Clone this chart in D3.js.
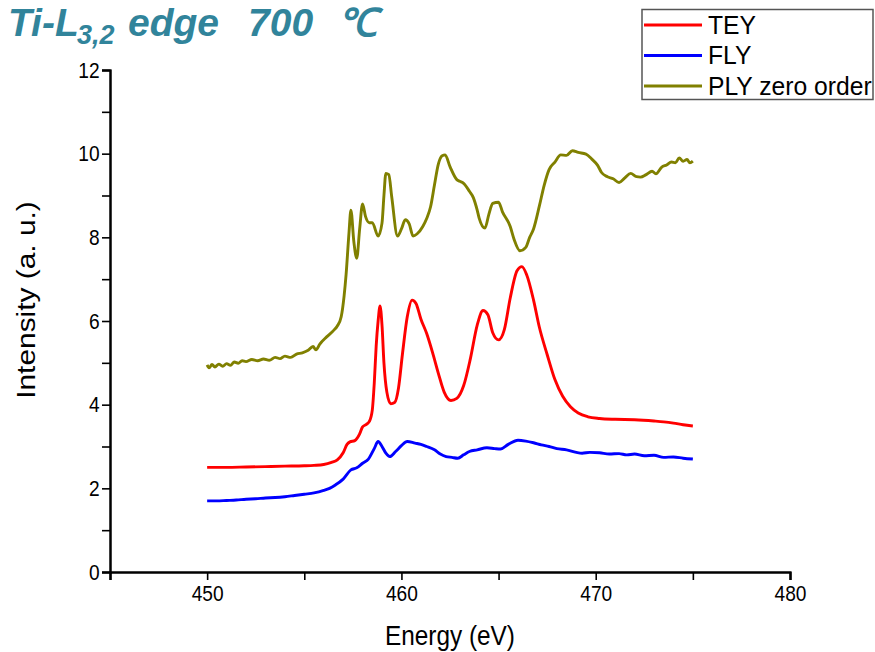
<!DOCTYPE html>
<html><head><meta charset="utf-8">
<script src="https://cdn.jsdelivr.net/npm/d3@7"></script>
<style>body{margin:0;background:#fff}svg{display:block}</style>
</head><body><div id="chart"></div>
<script>
const xTicks = [450, 460, 470, 480];
const xMinorTicks = [445, 455, 465, 475];
const yTicks = [0, 2, 4, 6, 8, 10, 12];
const yMinorTicks = [1, 3, 5, 7, 9, 11];
const seriesNames = ["TEY", "FLY", "PLY zero order"];
const seriesColors = ["#ff0000", "#0000ff", "#808000"];

const teyData = [[450,2.50],[451,2.50],[452,2.51],[453,2.52],[454,2.53],[455,2.54],[455.5,2.55],[456,2.57],[456.4,2.62],[456.7,2.68],[457,2.85],[457.2,3.05],[457.35,3.11],[457.6,3.14],[457.85,3.30],[458.0,3.47],[458.2,3.53],[458.35,3.60],[458.5,3.87],[458.6,4.5],[458.7,5.4],[458.8,6.0],[458.9,6.36],[459.0,5.9],[459.1,5.0],[459.25,4.3],[459.45,4.02],[459.65,4.05],[459.85,4.4],[460.05,5.2],[460.3,6.1],[460.55,6.5],[460.75,6.42],[461.0,6.05],[461.3,5.7],[461.6,5.25],[461.9,4.75],[462.2,4.3],[462.55,4.1],[462.85,4.15],[463.2,4.45],[463.55,5.1],[463.9,5.9],[464.2,6.25],[464.45,6.15],[464.7,5.72],[465.0,5.55],[465.3,5.8],[465.6,6.55],[465.95,7.2],[466.2,7.3],[466.45,7.1],[466.8,6.5],[467.1,5.85],[467.5,5.2],[467.9,4.6],[468.3,4.2],[468.7,3.95],[469.1,3.8],[469.6,3.71],[470.2,3.67],[471,3.65],[472,3.64],[473,3.61],[473.5,3.59],[474,3.56],[474.5,3.52],[475,3.49]];

const flyData = [[450,1.70],[450.5,1.70],[451,1.71],[451.5,1.72],[452,1.74],[452.5,1.75],[453,1.77],[453.5,1.78],[454,1.80],[454.5,1.83],[455,1.86],[455.5,1.89],[456,1.95],[456.3,2.00],[456.6,2.08],[457.0,2.22],[457.4,2.44],[457.7,2.49],[458.0,2.60],[458.3,2.70],[458.6,2.95],[458.8,3.12],[459.0,3.0],[459.2,2.84],[459.4,2.76],[459.7,2.88],[460.0,3.02],[460.3,3.12],[460.7,3.08],[461.0,3.05],[461.3,3.0],[461.7,2.92],[462.0,2.82],[462.3,2.76],[462.6,2.74],[462.9,2.72],[463.2,2.80],[463.5,2.88],[463.9,2.92],[464.4,2.97],[464.8,2.95],[465.1,2.94],[465.5,3.05],[466.0,3.15],[466.4,3.13],[466.8,3.09],[467.2,3.04],[467.6,3.0],[468.0,2.95],[468.5,2.92],[469.0,2.86],[469.3,2.84],[469.7,2.86],[470.2,2.85],[470.7,2.82],[471.2,2.83],[471.6,2.80],[472.0,2.82],[472.5,2.78],[473.0,2.79],[473.5,2.74],[474.0,2.75],[474.5,2.72],[475,2.70]];

const plyData = [[450,4.95],[450.1,4.88],[450.25,4.96],[450.4,4.90],[450.6,4.97],[450.8,4.92],[451.0,4.98],[451.2,4.94],[451.4,5.02],[451.6,4.99],[451.8,5.05],[452.0,5.03],[452.3,5.08],[452.6,5.05],[452.9,5.09],[453.2,5.06],[453.5,5.13],[453.75,5.10],[454.0,5.16],[454.3,5.13],[454.6,5.21],[454.9,5.24],[455.2,5.30],[455.45,5.39],[455.6,5.31],[455.8,5.45],[456.15,5.62],[456.5,5.77],[456.7,5.88],[456.9,6.1],[457.05,6.6],[457.15,7.1],[457.3,8.1],[457.4,8.65],[457.55,7.9],[457.7,7.5],[457.85,8.2],[458.0,8.8],[458.15,8.5],[458.35,8.35],[458.5,8.35],[458.8,8.03],[459.0,8.34],[459.1,9.0],[459.2,9.53],[459.35,9.5],[459.5,8.97],[459.8,8.03],[460.0,8.2],[460.2,8.42],[460.4,8.32],[460.6,8.03],[460.8,8.08],[461.1,8.26],[461.3,8.45],[461.5,8.73],[461.7,9.25],[461.9,9.75],[462.1,9.95],[462.25,9.97],[462.5,9.69],[462.85,9.38],[463.0,9.34],[463.2,9.29],[463.5,9.1],[463.7,8.95],[463.9,8.65],[464.0,8.46],[464.3,8.22],[464.5,8.55],[464.7,8.81],[465.0,8.84],[465.2,8.61],[465.6,8.26],[465.8,7.95],[466.1,7.68],[466.4,7.76],[466.6,8.0],[466.8,8.2],[467.1,8.75],[467.35,9.25],[467.6,9.62],[467.9,9.8],[468.2,9.97],[468.5,9.96],[468.8,10.07],[469.1,10.03],[469.5,9.99],[469.8,9.87],[470.1,9.72],[470.3,9.55],[470.6,9.45],[470.9,9.40],[471.2,9.31],[471.5,9.42],[471.8,9.53],[472.1,9.45],[472.3,9.44],[472.6,9.50],[472.9,9.58],[473.1,9.52],[473.4,9.68],[473.65,9.73],[473.9,9.80],[474.1,9.78],[474.3,9.90],[474.5,9.82],[474.7,9.86],[474.85,9.78],[475.0,9.82]];

const allData = [teyData, flyData, plyData];

const W = 875, H = 652;
const svg = d3.select("#chart").append("svg").attr("width", W).attr("height", H);

const x = d3.scaleLinear().domain([445, 480]).range([110, 790]);
const y = d3.scaleLinear().domain([0, 12]).range([572, 70]);

const font = "'Liberation Sans', Arial, sans-serif";
const SX = 0.87;

// title
const title = svg.append("text").attr("y", 36)
  .attr("font-family", font).attr("font-weight", "bold")
  .attr("font-style", "italic").attr("font-size", 39).attr("fill", "#31849B");
title.append("tspan").attr("x", 8).text("Ti-L");
title.append("tspan").attr("x", 77).attr("y", 44).attr("font-size", 27).text("3,2");
title.append("tspan").attr("x", 128).attr("y", 36).text("edge");
title.append("tspan").attr("x", 248).text("700");
title.append("tspan").attr("x", 338).text("℃");

// axes
svg.append("g").attr("transform", `translate(0,${y(0)})`)
  .call(d3.axisBottom(x).tickValues(xTicks).tickSize(8).tickPadding(5).tickFormat(d3.format("d")));
svg.append("g").attr("transform", `translate(0,${y(0)})`)
  .call(d3.axisBottom(x).tickValues(xMinorTicks).tickSize(8).tickFormat(""));
svg.append("g").attr("transform", `translate(${x(445)},0)`)
  .call(d3.axisLeft(y).tickValues(yTicks).tickSize(8).tickPadding(4).tickFormat(d3.format("d")));
svg.append("g").attr("transform", `translate(${x(445)},0)`)
  .call(d3.axisLeft(y).tickValues(yMinorTicks).tickSize(8).tickFormat(""));
svg.selectAll(".domain").attr("stroke", "#000").attr("stroke-width", 2);
svg.selectAll(".tick line").attr("stroke", "#000").attr("stroke-width", 1.6);
svg.selectAll(".tick text").attr("font-family", font).attr("font-size", 22).attr("fill", "#000")
  .attr("transform", `scale(${SX},1)`);

// axis labels
svg.append("text").attr("transform", `translate(450,645) scale(${SX},1)`).attr("text-anchor", "middle")
  .attr("font-family", font).attr("font-size", 28).text("Energy (eV)");
svg.append("text").attr("transform", `translate(35,300) rotate(-90) scale(1.15,1)`).attr("text-anchor", "middle")
  .attr("font-family", font).attr("font-size", 26).text("Intensity (a. u.)");

// lines
const line = d3.line().x(d => x(d[0])).y(d => y(d[1])).curve(d3.curveMonotoneX);
allData.forEach((data, i) => {
  svg.append("path").datum(data).attr("d", line).attr("fill", "none")
    .attr("stroke", seriesColors[i]).attr("stroke-width", 2.9).attr("stroke-linejoin", "round");
});

// legend
const lg = svg.append("g");
lg.append("rect").attr("x", 642).attr("y", 9.5).attr("width", 231).attr("height", 90)
  .attr("fill", "#fff").attr("stroke", "#555").attr("stroke-width", 1.5);
seriesNames.forEach((name, i) => {
  const yy = 25 + i * 30.5;
  lg.append("line").attr("x1", 644).attr("x2", 702).attr("y1", yy).attr("y2", yy)
    .attr("stroke", seriesColors[i]).attr("stroke-width", 2.9);
  lg.append("text").attr("transform", `translate(708,${yy + 8.5}) scale(0.95,1)`).attr("font-family", font)
    .attr("font-size", 26).text(name);
});
</script></body></html>
